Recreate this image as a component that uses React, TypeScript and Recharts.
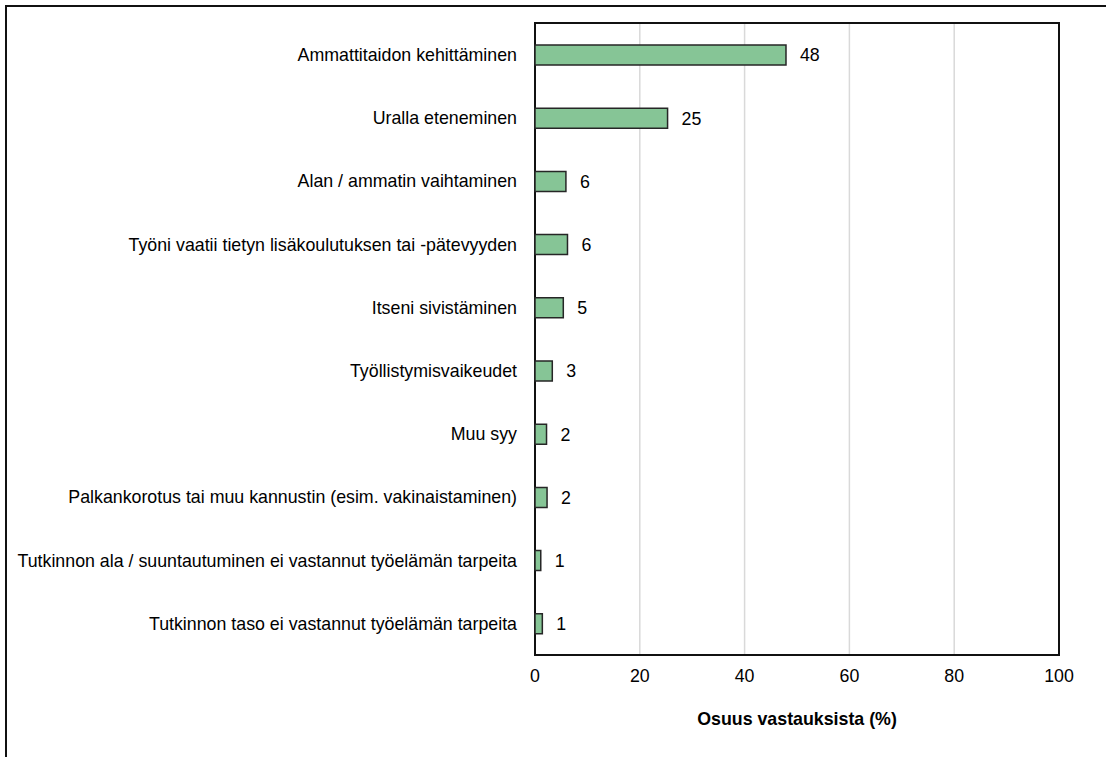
import React from 'react';
import { BarChart, Bar, XAxis, YAxis, CartesianGrid, ReferenceArea, LabelList } from 'recharts';

const categories = [
  'Ammattitaidon kehittäminen',
  'Uralla eteneminen',
  'Alan / ammatin vaihtaminen',
  'Työni vaatii tietyn lisäkoulutuksen tai -pätevyyden',
  'Itseni sivistäminen',
  'Työllistymisvaikeudet',
  'Muu syy',
  'Palkankorotus tai muu kannustin (esim. vakinaistaminen)',
  'Tutkinnon ala / suuntautuminen ei vastannut työelämän tarpeita',
  'Tutkinnon taso ei vastannut työelämän tarpeita',
];

const shares = [47.9, 25.3, 5.9, 6.2, 5.4, 3.3, 2.2, 2.3, 1.1, 1.4];

const xTicks = [0, 20, 40, 60, 80, 100];

const data = categories.map((name, i) => ({ name, value: shares[i] }));

const FONT = '"Liberation Sans", Arial, sans-serif';
const FS = 17.8;

export default function App() {
  return (
    <div style={{ position: 'fixed', left: 0, top: 0, width: 1106, height: 757, background: '#fff', fontFamily: FONT }}>
      {/* outer frame, only top and left edges fall inside the picture */}
      <div
        style={{
          position: 'absolute',
          left: 5,
          top: 5,
          width: 1200,
          height: 800,
          borderTop: '2px solid #111',
          borderLeft: '2px solid #111',
        }}
      />
      <div style={{ position: 'absolute', left: 0, top: 0 }}>
        <BarChart
          width={1106}
          height={757}
          data={data}
          layout="vertical"
          margin={{ top: 23, right: 47, left: 0, bottom: 32 }}
          barSize={20}
        >
          <CartesianGrid horizontal={false} stroke="#d9d9d9" strokeWidth={1.5} />
          <XAxis
            type="number"
            domain={[0, 100]}
            ticks={xTicks}
            axisLine={false}
            tickLine={false}
            tickSize={0}
            tickMargin={14}
            height={70}
            tick={{ fill: '#000', fontSize: FS, fontFamily: FONT }}
            label={{
              value: 'Osuus vastauksista (%)',
              position: 'insideBottom',
              offset: 0,
              fill: '#000',
              fontSize: FS,
              fontWeight: 'bold',
              fontFamily: FONT,
            }}
          />
          <YAxis
            type="category"
            dataKey="name"
            width={535}
            axisLine={false}
            tickLine={false}
            tickSize={0}
            tickMargin={18}
            interval={0}
            tick={{ fill: '#000', fontSize: FS, fontFamily: FONT }}
          />
          <ReferenceArea x1={0} x2={100} fill="none" stroke="#111" strokeWidth={2} ifOverflow="visible" />
          <Bar dataKey="value" fill="#86c596" stroke="#262626" strokeWidth={1.5} isAnimationActive={false}>
            <LabelList
              dataKey="value"
              position="right"
              offset={14}
              formatter={(v: any) => Math.round(Number(v))}
              fill="#000"
              fontSize={FS}
              fontFamily={FONT}
            />
          </Bar>
        </BarChart>
      </div>
    </div>
  );
}
